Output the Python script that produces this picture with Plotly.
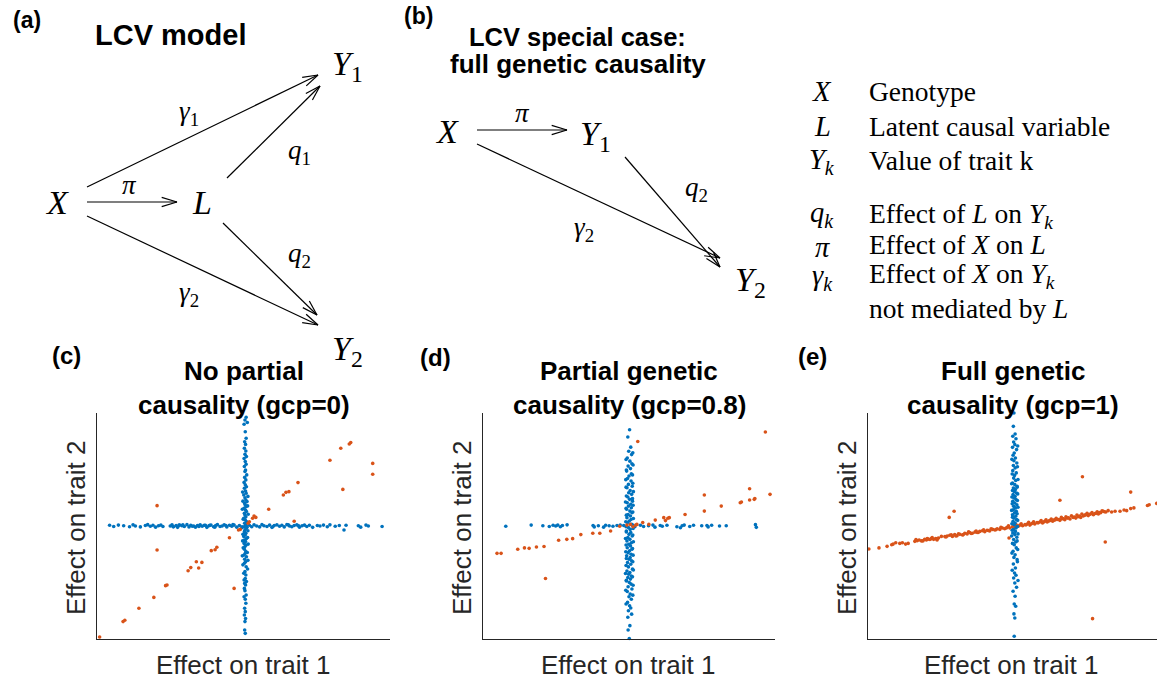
import math
import plotly.graph_objects as go

W, H = 1157, 679

# ---------------- data (effect sizes, arbitrary units, axes span -50..50) ----------------
# Panel (c): no partial causality (gcp=0)
c_blue_v_y = [48.1, 46.9, 45.8, 45.0, 41.7, 38.8, 37.3, 36.1, 34.4, 33.2, 31.7, 30.7, 29.9, 28.5, 27.3, 26.3,
              24.8, 24.1, 22.6, 21.5, 20.4, 19.3, 18.2, 17.4, 16.7, 15.5, 14.5, 13.7, 12.5, 11.5, 10.8, 10.0,
              9.3, 8.6, 7.8, 7.1, 6.4, 5.6, 4.9, 4.1, 3.4, 2.7, 1.9, 1.2, 0.4, -0.3, -1.0, -1.8, -2.5, -3.2,
              -4.0, -4.7, -5.5, -6.2, -6.9, -7.7, -8.4, -9.1, -10.3, -11.3, -12.1, -12.8, -13.6, -14.7, -15.8,
              -16.5, -18.0, -20.2, -20.9, -21.7, -23.2, -23.9, -24.6, -25.4, -26.1, -27.6, -28.6, -30.5, -31.3,
              -32.4, -34.2, -36.4, -37.9, -39.4, -40.9, -42.3, -46.0, -47.5,
              15.0, 13.1, 11.0, 8.9, 7.4, 5.2, 3.0, 1.5, -0.7, -2.1, -3.7, -5.1, -6.6, -8.0, -9.6, -11.7, -13.2,
              -15.2, -17.2, -19.0]
c_blue_v_x = [0.9, 0.5, 1.3, 0.2, 0.6, 0.9, 0.4, 0.7, 0.3, 0.8, 0.5, 1.0, 0.2, 0.6, 0.9, 0.3, 0.7, 0.5, 1.1,
              0.4, 0.8, 0.2, 0.6, 1.0, 0.3, 0.7, 0.9, 0.1, 0.5, 0.8, 1.2, 0.4, 0.6, 0.9, 0.2, 0.7, 1.0, 0.3,
              0.5, 0.8, 0.1, 0.6, 1.1, 0.4, 0.7, 0.2, 0.9, 0.5, 0.3, 0.8, 0.6, 0.1, 1.0, 0.4, 0.7, 0.2, 0.9,
              0.5, 0.3, 0.8, 0.6, 0.2, 1.0, 0.4, 0.7, 0.3, 0.9, 0.5, 0.1, 0.8, 0.6, 0.2, 1.0, 0.4, 0.7, 0.3,
              0.5, 0.9, 0.2, 0.6, 0.8, 0.4, 0.6, 0.3, 0.7, 0.5, 0.4, 0.6,
              -0.3, 1.5, -0.2, 1.4, -0.4, 1.6, -0.1, 1.3, -0.5, 1.5, -0.2, 1.4, -0.3, 1.6, -0.1, 1.3, -0.4,
              1.5, -0.2, 1.4, 0.5, 0.6]
c_blue_h_x = [-45.7, -44.3, -42.7, -40.9, -38.9, -37.7, -36.9, -35.2, -33.5, -32.7, -31.8, -30.9, -30.0,
              -29.0, -28.2, -27.5, -25.0, -24.4, -23.9, -23.0, -22.5, -21.8, -21.0, -20.2, -19.3, -18.6,
              -18.0, -17.0, -16.4, -15.7, -14.8, -14.1, -13.4, -12.5, -11.8, -11.1, -10.2, -9.5, -8.9, -8.0,
              -7.3, -6.6, -5.7, -4.8, -4.0, -3.2, -2.3, -1.4, 2.0, 2.8, 3.6, 4.5, 5.5, 6.3, 7.0, 8.0, 8.9,
              9.7, 10.5, 11.4, 12.3, 13.1, 13.9, 14.8, 15.7, 16.5, 17.3, 18.2, 19.1, 20.0, 20.8, 21.6, 22.5,
              23.6, 25.2, 26.1, 27.3, 28.6, 29.5, 31.3, 32.7, 34.3, 35.0, 39.2, 40.0, 41.8, 42.6, 47.3,
              -24.0, -20.7, -17.5, -13.0, -9.8, -6.0, -3.6, -0.5, 0.9, 1.2, -22.0, -15.2, -11.5, 10.0,
              15.3, 18.8]
c_blue_h_y = [0.3, -0.2, 0.4, 0.1, -0.3, 0.5, 0.0, -0.4, 0.2, 0.6, -0.1, 0.3, -0.5, 0.1, 0.4, -0.2, 0.0,
              0.5, -0.3, 0.2, -0.6, 0.4, 0.1, -0.2, 0.6, -0.4, 0.3, 0.0, -0.5, 0.2, 0.5, -0.1, 0.3, -0.6,
              0.1, 0.4, -0.3, 0.2, 0.6, -0.2, 0.0, 0.5, -0.4, 0.3, -0.1, 0.4, -0.5, 0.2, 0.3, -0.3, 0.5,
              0.0, -0.4, 0.6, 0.1, -0.2, 0.4, -0.6, 0.2, 0.5, -0.1, 0.3, -0.4, 0.6, 0.0, -0.3, 0.2, 0.5,
              -0.5, 0.1, 0.4, -0.2, 0.3, -0.6, 0.2, 0.0, 0.4, -0.3, 0.5, -0.1, 0.2, -1.8, 0.3, 0.1, -0.5,
              0.4, 0.0, -0.2, -0.3, 0.5, -0.1, 0.3, -0.5, 0.2, 0.6, -0.4, 0.1, -0.6, 0.4, -0.2, 0.3, -0.3,
              0.5, 0.1]
c_orange_x = [-29.5, -29.5, 33.2, 36.6, 36.1, 29.5, 44.1, 44.1, 33.9, 18.6, 13.6, 14.5, 15.5, 8.6, 3.6,
              4.2, 3.1, 2.0, 1.6, 17.3, -1.1, -1.7, -4.8, -9.1, -9.7, -11.0, -14.2, -16.1, -15.3, -18.0,
              -18.9, -26.1, -26.6, -3.2, -30.6, -35.7, -40.5, -41.1, -49.1]
c_orange_y = [9.0, -10.6, 34.4, 36.9, 36.3, 29.1, 27.7, 22.9, 16.2, 19.2, 13.7, 14.9, 15.2, 7.4, 4.4,
              3.8, 3.4, 1.9, 1.2, 2.1, -1.5, -1.8, -5.2, -9.4, -10.5, -10.9, -16.1, -15.8, -18.6, -18.4,
              -19.8, -26.1, -26.4, -27.6, -31.6, -36.4, -41.7, -42.3, -49.1]

# Panel (d): partial genetic causality (gcp=0.8)
d_blue_v_y = [42.6, 39.4, 34.9, 33.1, 31.6, 30.1, 28.7, 27.5, 26.5, 25.4, 24.3, 23.1, 22.1, 21.0, 19.9,
              18.4, 17.6, 16.9, 15.7, 14.7, 14.0, 12.8, 11.8, 11.0, 10.3, 9.6, 8.8, 8.1, 7.4, 6.6, 5.9, 5.1,
              4.4, 3.7, 2.9, 2.2, 1.5, 0.7, -0.7, -1.5, -2.2, -2.9, -3.7, -4.4, -5.1, -5.9, -6.6, -7.4,
              -8.1, -8.8, -9.6, -10.3, -11.0, -11.8, -12.5, -13.2, -14.0, -14.7, -15.4, -16.2, -16.9,
              -18.1, -19.1, -19.9, -20.6, -21.3, -22.1, -22.8, -23.5, -24.3, -25.0, -25.7, -26.9, -27.9,
              -29.0, -30.1, -31.3, -32.4, -33.8, -35.3, -36.3, -37.5, -39.0, -40.4, -44.1, -46.0, -49.8,
              32.4, 29.4, 27.0, 24.8, 22.6, 20.5, 18.9, 17.2, 15.2, 13.3, 12.1, 10.6, 9.2, 7.8, 6.2, 4.8,
              3.3, 1.9, 0.3, -0.3, -1.1, -2.6, -4.0, -5.5, -7.0, -8.4, -10.0, -11.4, -12.9, -14.4, -15.8,
              -17.5, -19.5, -21.0, -22.5, -24.0, -26.2, -28.4, -30.6, -34.5]
d_blue_v_x = [0.2, -0.4, 0.6, -0.1, 0.9, -0.6, 0.3, 1.0, -0.3, 0.5, -0.8, 0.8, 0.0, -0.5, 0.7, -0.2, 1.1,
              -0.7, 0.4, -0.1, 0.9, -0.4, 0.2, 1.2, -0.6, 0.6, -0.2, 0.8, -0.8, 0.3, 1.0, -0.3, 0.5, -0.7,
              0.7, 0.1, -0.5, 0.9, -0.2, 0.4, -0.9, 0.6, 0.0, 1.1, -0.4, 0.3, -0.7, 0.8, -0.1, 0.5, -0.6,
              1.0, 0.2, -0.3, 0.7, -0.8, 0.4, 0.0, 0.9, -0.5, 0.6, -0.2, 1.2, -0.7, 0.3, -0.1, 0.8, -0.4,
              0.5, -0.9, 0.1, 0.7, -0.3, 1.0, -0.6, 0.4, 0.0, 0.8, -0.5, 0.2, 0.6, -0.2, 0.9, -0.4, 0.3,
              -0.3, 0.1,
              1.3, -1.0, 1.4, -0.9, 1.2, -1.1, 1.3, -1.0, 1.5, -0.9, 1.2, -1.2, 1.4, -1.0, 1.3, -0.9, 1.5,
              -1.1, 1.2, -1.0, 1.4, -0.9, 1.3, -1.2, 1.5, -1.0, 1.2, -1.1, 1.4, -0.9, 1.3, -1.0, 1.5, -1.2,
              1.2, -0.9, 1.4, -1.1, 1.3, -1.0, 0.5, 0.2]
d_blue_h_x = [-42.2, -33.5, -29.5, -27.3, -26.0, -25.1, -24.4, -23.5, -22.8, -21.2, -12.3, -11.9, -10.5,
              -8.7, -8.0, -5.5, -4.1, -3.0, 3.9, 5.0, 6.7, 8.2, 8.9, 10.7, 11.4, 13.0, 16.4, 17.6, 18.2,
              18.9, 20.8, 22.1, 24.9, 26.7, 27.1, 28.3, 31.0, 33.3, 43.3, 43.6, -1.8, 2.0, -6.8, 1.2]
d_blue_h_y = [-0.1, 0.4, 0.1, -0.2, 0.3, 0.0, 0.4, -0.3, 0.2, 0.5, 0.2, -0.4, 0.1, -0.5, 0.3, -0.1, 0.2,
              0.4, 0.3, -0.2, 0.1, 0.4, -0.5, 0.2, -0.1, 0.3, -0.3, -0.8, 0.1, 0.4, -0.2, 0.3, 0.1, 0.2,
              -0.4, 0.3, 0.0, 0.1, 0.6, -0.6, 0.2, -0.3, 0.1, 0.4]
d_orange_x = [-45.2, -43.8, -38.1, -35.8, -34.2, -31.7, -29.1, -28.6, -24.1, -21.3, -19.3, -16.5, -12.4,
              -10.0, -6.3, -3.2, -0.7, 0.5, 1.4, 2.3, 2.7, 4.7, 6.8, 9.0, 11.9, 12.5, 13.3, 13.8, 19.2,
              25.8, 25.8, 31.6, 38.1, 38.5, 41.3, 41.3, 42.9, 43.1, 48.3, 46.7, 3.0]
d_orange_y = [-12.1, -12.1, -10.3, -9.7, -9.9, -9.3, -9.1, -23.2, -6.3, -5.9, -5.6, -3.8, -3.2, -3.2,
              -2.2, -0.1, 0.4, 0.7, -0.3, 0.4, 0.7, 1.5, 0.7, 2.6, 3.7, 2.4, 3.4, 3.7, 5.1, 13.7, 6.6, 8.8,
              10.3, 10.6, 16.5, 11.5, 11.8, 12.2, 14.0, 41.6, 37.4]

# Panel (e): full genetic causality (gcp=1)
e_blue_v_y = [50.0, 44.1, 40.7, 39.7, 38.6, 37.2, 36.0, 34.8, 33.8, 32.3, 31.3, 30.1, 28.9, 27.9, 26.8,
              25.7, 24.5, 23.5, 22.4, 21.2, 20.1, 19.0, 18.3, 17.6, 16.8, 16.1, 15.3, 14.6, 13.9, 13.1,
              12.4, 11.7, 10.9, 10.2, 9.4, 8.7, 8.0, 7.2, 6.5, 5.8, 5.0, 4.3, 3.5, 2.8, 2.1, 1.3, 0.6,
              -0.9, -1.6, -2.4, -3.1, -3.8, -5.0, -6.0, -7.1, -8.3, -9.7, -11.2, -12.7, -13.9, -14.9,
              -16.8, -18.6, -20.8, -21.8, -23.0, -25.2, -27.1, -28.9, -31.1, -34.5, -35.5, -38.9, -40.7,
              -48.8,
              35.4, 29.5, 26.2, 23.0, 20.6, 18.7, 17.2, 15.7, 14.2, 12.8, 11.3, 9.8, 8.3, 6.9, 5.4, 3.9,
              2.5, 1.0, -0.2, -1.9, -3.5, -4.4, -6.6, -7.7, -10.4, -12.0, -15.8, -19.6, -24.1]
e_blue_v_x = [0.5, 0.3, 0.9, 0.1, 1.2, 0.4, 0.8, 0.0, 1.4, 0.6, 0.2, 1.0, 0.5, 1.5, 0.3, 0.9, 0.1, 1.3,
              0.7, 0.4, 1.1, 0.0, 0.8, 1.6, 0.3, 1.0, 0.6, 1.4, 0.2, 0.9, 0.5, 1.2, 0.1, 0.8, 1.5, 0.4,
              1.0, 0.3, 1.3, 0.7, 0.0, 1.1, 0.5, 1.4, 0.2, 0.9, 0.6, 1.2, 0.3, 1.0, 0.1, 0.8, 1.5, 0.4,
              1.1, 0.6, 1.3, 0.2, 0.9, 0.5, 1.6, 0.3, 1.0, 0.7, 1.2, 0.4, 0.8, 1.4, 0.2, 0.9, 0.6, 1.1,
              0.5, 0.8, 0.6,
              1.8, -0.2, 1.7, -0.1, 1.9, -0.3, 1.6, 0.0, 1.8, -0.2, 1.7, -0.1, 1.9, -0.3, 1.6, 0.0, 1.8,
              -0.2, 1.7, -0.1, 1.9, -0.3, 1.6, 0.0, 1.8, -0.2, 1.7, -0.1, 1.9, 0.5]
e_orange_x = [-49.7, -46.2, -43.4, -41.8, -41.3, -40.4, -39.0, -38.1, -37.0, -36.1, -33.8, -33.0, -32.3,
              -31.5, -30.4, -29.8, -29.2, -28.6, -28.1, -27.3, -26.6, -26.1, -25.6, -23.4, -22.6, -21.7,
              -20.8, -20.0, -19.2, -18.2, -17.3, -16.5, -15.7, -14.8, -13.9, -13.0, -12.2, -11.3, -10.4,
              -9.6, -8.8, -7.9, -6.9, -6.1, -5.3, -4.4, -3.5, -2.7, -1.8, -0.9, 0.0, 0.8, 1.6, 2.5, 3.5,
              4.3, 5.1, 6.0, 6.9, 7.7, 8.5, 9.5, 10.4, 11.2, 12.0, 12.9, 13.9, 14.7, 15.5, 16.4, 17.3,
              18.1, 18.9, 19.9, 21.0, 21.9, 22.7, 23.6, 24.5, 25.4, 26.2, 27.0, 28.0, 28.9, 29.7, 30.5,
              31.4, 32.3, 33.1, 34.3, 35.5, 37.2, 38.6, 39.5, 40.9, 42.0, 46.7, 47.3, 49.9,
              -33.4, -31.0, -29.5, -27.8, -26.0, -24.6, -23.0, -21.2, -19.6, -18.7, -17.0, -15.2, -14.3,
              -12.6, -11.8, -10.0, -8.4, -7.4, -5.7, -4.0, -2.2, -1.4, 0.4, 1.2, 2.0, 3.0, 4.7, 5.6, 6.4,
              7.3, 8.9, 9.9, 10.8, 11.6, 12.5, 13.4, 14.3, 15.1, 16.0, 16.9, 17.7, 18.5, 19.4, 20.4, 21.5,
              22.3, 23.2, 24.0, 25.0, 25.8, 26.6, 27.5, 28.5, 29.3, 30.1, 31.0, 31.8,
              -20.2, -21.9, 16.4, 24.2, 40.9, 32.1, 27.7, -1.2]
e_orange_y = [-10.2, -9.7, -9.0, -8.3, -8.0, -7.4, -7.7, -7.4, -8.0, -7.7, -6.8, -6.5, -6.2, -6.6, -5.9,
              -6.2, -5.8, -6.0, -5.6, -5.9, -5.6, -6.2, -5.3, -4.7, -4.4, -4.1, -4.6, -3.8, -4.3, -3.7,
              -4.0, -3.2, -3.5, -2.9, -3.2, -2.7, -2.9, -2.4, -2.1, -2.5, -1.9, -2.2, -1.5, -1.8, -1.2,
              -1.5, -0.9, -1.2, -0.6, -0.9, -0.3, -0.6, 0.0, 0.3, 0.1, 0.6, 0.9, 0.4, 1.2, 0.9, 1.5, 1.8,
              1.3, 2.1, 1.8, 2.4, 2.1, 2.7, 2.9, 2.5, 3.2, 2.8, 3.5, 3.1, 3.8, 3.5, 4.1, 3.8, 4.4, 5.0,
              4.6, 5.3, 5.0, 5.6, 5.3, 5.9, 6.5, 6.2, 6.8, 6.2, 6.5, 6.5, 7.1, 6.8, 7.7, 8.0, 9.1, 9.4,
              10.0,
              -6.0, -6.6, -5.5, -5.1, -5.6, -4.6, -4.9, -3.9, -4.4, -3.4, -3.8, -2.6, -3.3, -2.2, -2.8,
              -1.7, -2.0, -1.2, -1.6, -0.6, -0.9, 0.1, -0.4, 0.6, -0.1, 1.0, 0.5, 1.6, 0.9, 1.9, 1.4, 2.4,
              1.8, 2.7, 2.2, 3.1, 2.6, 3.4, 2.9, 3.8, 3.2, 4.1, 3.6, 4.5, 4.0, 4.9, 4.4, 5.3, 4.8, 5.6,
              5.1, 6.0, 5.5, 6.3, 5.9, 6.7, 6.3,
              6.5, 3.8, 11.4, 21.8, 15.0, -7.1, -41.0, -5.3]

panel_titles = [["No partial", "causality (gcp=0)"],
                ["Partial genetic", "causality (gcp=0.8)"],
                ["Full genetic", "causality (gcp=1)"]]
panel_letters = ["(c)", "(d)", "(e)"]
x_label = "Effect on trait 1"
y_label = "Effect on trait 2"

legend_symbols = ["<i>X</i>", "<i>L</i>", "<i>Y<sub>k</sub></i>", "<i>q<sub>k</sub></i>", "<i>π</i>",
                  "<i>γ<sub>k</sub></i>"]
legend_texts = ["Genotype", "Latent causal variable", "Value of trait k",
                "Effect of <i>L</i> on <i>Y<sub>k</sub></i>", "Effect of <i>X</i> on <i>L</i>",
                "Effect of <i>X</i> on <i>Y<sub>k</sub></i>", "not mediated by <i>L</i>"]

# ---------------- styling ----------------
BLUE = "#0072BD"
ORANGE = "#D95319"
AXC = "#262626"
SANS = "Liberation Sans, Arial, Helvetica, sans-serif"
SERIF = "Liberation Serif, Times New Roman, serif"

fig = go.Figure()
shapes = []


def px(x):
    return x / W


def py(y):
    return 1 - y / H


def pts(xs, ys, color, k):
    n = min(len(xs), len(ys))
    fig.add_trace(go.Scatter(x=xs[:n], y=ys[:n], mode="markers",
                             marker=dict(size=3.6, color=color, line=dict(width=0)),
                             xaxis="x" + k, yaxis="y" + k, cliponaxis=False,
                             hoverinfo="skip", showlegend=False))


pts(c_blue_v_x, c_blue_v_y, BLUE, "")
pts(c_blue_h_x, c_blue_h_y, BLUE, "")
pts(c_orange_x, c_orange_y, ORANGE, "")
pts(d_blue_v_x, d_blue_v_y, BLUE, "2")
pts(d_blue_h_x, d_blue_h_y, BLUE, "2")
pts(d_orange_x, d_orange_y, ORANGE, "2")
pts(e_orange_x, e_orange_y, ORANGE, "3")
pts(e_blue_v_x, e_blue_v_y, BLUE, "3")

panels = [(97, 390), (483, 775), (868, 1157)]
ytop, ybot = 413, 639


def axis(dom, anchor):
    return dict(domain=dom, range=[-50, 50], anchor=anchor, showline=True, linecolor=AXC,
                linewidth=1.4, showgrid=False, zeroline=False, showticklabels=False, ticks="",
                fixedrange=True)


layout_axes = {}
for i, (l, r) in enumerate(panels):
    k = "" if i == 0 else str(i + 1)
    layout_axes["xaxis" + k] = axis([px(l), min(px(r), 1.0)], "y" + k)
    layout_axes["yaxis" + k] = axis([py(ybot), py(ytop)], "x" + k)


def txt(x, y, s, size, family=SANS, bold=False, xanchor="center", angle=0, color="black"):
    fig.add_annotation(x=px(x), y=py(y), xref="paper", yref="paper",
                       text=("<b>" + s + "</b>") if bold else s, showarrow=False,
                       font=dict(size=size, family=family, color=color),
                       xanchor=xanchor, yanchor="middle", textangle=angle, borderpad=0)


def seg(x0, y0, x1, y1):
    shapes.append(dict(type="line", xref="paper", yref="paper", x0=px(x0), y0=py(y0),
                       x1=px(x1), y1=py(y1), line=dict(color="black", width=1.2)))


def arrow(x0, y0, x1, y1, head=16, ang=17):
    seg(x0, y0, x1, y1)
    dx, dy = x1 - x0, y1 - y0
    L = math.hypot(dx, dy)
    ux, uy = dx / L, dy / L
    for s in (1, -1):
        a = math.radians(ang * s)
        rx = ux * math.cos(a) - uy * math.sin(a)
        ry = ux * math.sin(a) + uy * math.cos(a)
        seg(x1, y1, x1 - head * rx, y1 - head * ry)


# ---- panel (a) ----
txt(27, 20, "(a)", 23, bold=True)
txt(170, 35, "LCV model", 29, bold=True)
txt(57, 202, "<i>X</i>", 34, SERIF)
txt(202, 202, "<i>L</i>", 34, SERIF)
txt(347, 66, "<i>Y</i><sub>1</sub>", 34, SERIF)
txt(347, 351, "<i>Y</i><sub>2</sub>", 34, SERIF)
arrow(87, 187, 318, 75)
arrow(87, 202, 177, 202)
arrow(227, 178, 320, 86)
arrow(87, 216, 318, 325)
arrow(223, 223, 317, 315)
txt(129, 185, "<i>π</i>", 27, SERIF)
txt(189, 113, "<i>γ</i><sub>1</sub>", 27, SERIF)
txt(299, 152, "<i>q</i><sub>1</sub>", 27, SERIF)
txt(299, 255, "<i>q</i><sub>2</sub>", 27, SERIF)
txt(189, 294, "<i>γ</i><sub>2</sub>", 27, SERIF)

# ---- panel (b) ----
txt(418, 16, "(b)", 23, bold=True)
txt(577, 37, "LCV special case:", 25.5, bold=True)
txt(578, 64, "full genetic causality", 26, bold=True)
txt(447, 132, "<i>X</i>", 34, SERIF)
txt(595, 136, "<i>Y</i><sub>1</sub>", 34, SERIF)
txt(750, 282, "<i>Y</i><sub>2</sub>", 34, SERIF)
arrow(477, 130, 567, 130)
arrow(477, 144, 720, 258)
arrow(625, 157, 720, 267)
txt(522, 113, "<i>π</i>", 27, SERIF)
txt(696, 189, "<i>q</i><sub>2</sub>", 27, SERIF)
txt(584, 229, "<i>γ</i><sub>2</sub>", 27, SERIF)

# ---- legend of symbols ----
sym_rows = [92, 126, 161, 214, 247, 277]
txt_rows = [92, 126, 160, 215, 244, 275, 309]
for s, yy in zip(legend_symbols, sym_rows):
    txt(822, yy, s, 28.5, SERIF)
for s, yy in zip(legend_texts, txt_rows):
    txt(868, yy, s, 27.5, SERIF, xanchor="left")

# ---- scatter panel titles / labels ----
letter_pos = [(66, 355), (435, 357), (812, 356)]
for i, (l, r) in enumerate(panels):
    cx = (l + r) / 2
    lx, ly = letter_pos[i]
    txt(lx, ly, panel_letters[i], 24, bold=True)
    txt(cx, 371, panel_titles[i][0], 26, bold=True)
    txt(cx, 405, panel_titles[i][1], 26, bold=True)
    txt(cx - 1, 665, x_label, 26, color=AXC)
    txt(l - 21, 528, y_label, 26, angle=-90, color=AXC)

fig.update_layout(width=W, height=H, margin=dict(l=0, r=0, t=0, b=0), autosize=False,
                  paper_bgcolor="white", plot_bgcolor="white", showlegend=False,
                  shapes=shapes, **layout_axes)

fig.write_html("out.html")
